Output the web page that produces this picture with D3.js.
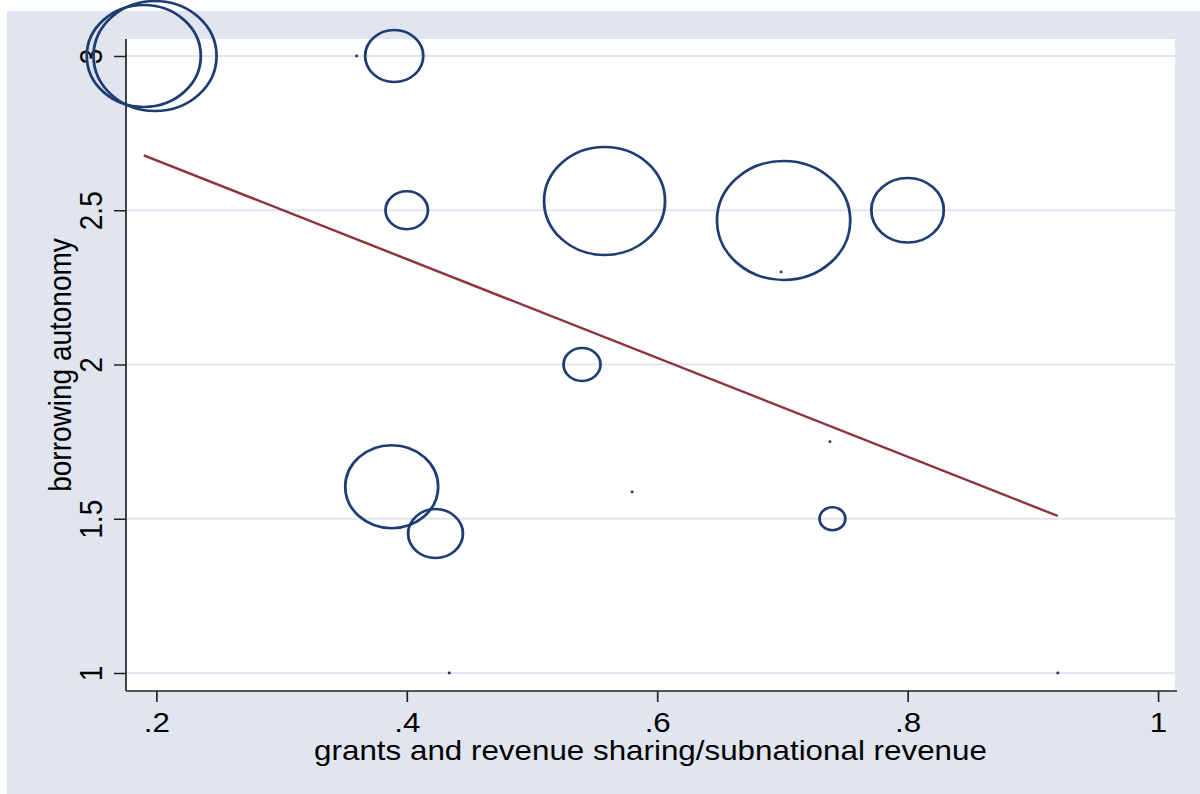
<!DOCTYPE html>
<html>
<head>
<meta charset="utf-8">
<script src="https://cdn.jsdelivr.net/npm/d3@7"></script>
<style>
  html, body { margin: 0; padding: 0; background: #ffffff; }
  svg { display: block; }
  text { font-family: "Liberation Sans", Arial, sans-serif; fill: #000; }
</style>
</head>
<body>
<svg id="chart"></svg>
<script>
// Share of grants and revenue sharing in subnational revenue (x),
// borrowing autonomy index (y), marker area proportional to weight.
const shareGrants = [0.190, 0.199, 0.360, 0.390, 0.400, 0.558, 0.701, 0.699, 0.800, 0.540, 0.738, 0.388, 0.423, 0.580, 0.740, 0.434, 0.920];
const borrowing   = [3.000, 3.000, 3.000, 3.000, 2.500, 2.530, 2.467, 2.300, 2.500, 2.000, 1.750, 1.604, 1.452, 1.587, 1.500, 1.000, 1.000];
const weights     = [104,   121,   0,     27,    14.4,  117,   142,   0,     42,    10.9,  0,     69,    24,    0,     5.3,   0,     0];

const xTicks = [0.2, 0.4, 0.6, 0.8, 1];
const xTickLabels = [".2", ".4", ".6", ".8", "1"];
const yTicks = [1, 1.5, 2, 2.5, 3];
const yTickLabels = ["1", "1.5", "2", "2.5", "3"];

const xTitle = "grants and revenue sharing/subnational revenue";
const yTitle = "borrowing autonomy";

// The graph is laid out in a narrower user space and stretched to the window width.
const STRETCH = 1.12;
const W = 1200 / STRETCH, H = 794;

const svg = d3.select("#chart")
  .attr("width", 1200).attr("height", H)
  .attr("viewBox", `0 0 ${W} ${H}`)
  .attr("preserveAspectRatio", "none");

const bg = "#e0e5ef";
const plot = { left: 126 / STRETCH, right: 1175 / STRETCH, top: 39, bottom: 691 };

// outer graph region
svg.append("rect")
  .attr("x", 7 / STRETCH).attr("y", 11)
  .attr("width", W).attr("height", H)
  .attr("fill", bg);

// plot region
svg.append("rect")
  .attr("x", plot.left).attr("y", plot.top)
  .attr("width", plot.right - plot.left).attr("height", plot.bottom - plot.top)
  .attr("fill", "#ffffff");

const x = d3.scaleLinear().domain([0.2, 1]).range([156.3 / STRETCH, 1158 / STRETCH]);
const y = d3.scaleLinear().domain([1, 3]).range([673, 56]);
const r = d3.scaleSqrt().domain([0, 142]).range([0, 59.5]);

// horizontal grid lines
svg.append("g").selectAll("line").data(yTicks).join("line")
  .attr("x1", plot.left).attr("x2", plot.right)
  .attr("y1", d => y(d)).attr("y2", d => y(d))
  .attr("stroke", bg).attr("stroke-width", 2.2);

// y axis
const yAxis = d3.axisLeft(y).tickValues(yTicks).tickSize(12 / STRETCH).tickFormat("");
const gy = svg.append("g").attr("transform", `translate(${plot.left},0)`).call(yAxis);
gy.select(".domain").attr("d", `M0,${plot.top}V${plot.bottom}`);
gy.selectAll("path, line").attr("stroke", "#222").attr("stroke-width", 1.5);

gy.selectAll(".tick").append("text")
  .attr("transform", `translate(${-(126 - 101.7) / STRETCH},0) rotate(-90)`)
  .attr("text-anchor", "middle")
  .attr("font-size", 28)
  .text((d, i) => yTickLabels[i]);

// x axis
const xAxis = d3.axisBottom(x).tickValues(xTicks).tickSize(11).tickFormat("");
const gx = svg.append("g").attr("transform", `translate(0,${plot.bottom})`).call(xAxis);
gx.select(".domain").attr("d", `M${plot.left},0H${1177 / STRETCH}`);
gx.selectAll("path, line").attr("stroke", "#222").attr("stroke-width", 1.5);

gx.selectAll(".tick").append("text")
  .attr("transform", `translate(0,${732 - plot.bottom})`)
  .attr("text-anchor", "middle")
  .attr("font-size", 28)
  .text((d, i) => xTickLabels[i]);

// axis titles
svg.append("text")
  .attr("transform", `translate(${(plot.left + plot.right) / 2},760)`)
  .attr("text-anchor", "middle")
  .attr("font-size", 28)
  .text(xTitle);

svg.append("text")
  .attr("transform", `translate(${70.7 / STRETCH},${(plot.top + plot.bottom) / 2}) rotate(-90)`)
  .attr("text-anchor", "middle")
  .attr("font-size", 28)
  .text(yTitle);

// weighted markers
const pts = shareGrants.map((v, i) => ({ x: v, y: borrowing[i], w: weights[i] }));
const marker = "#1f3d73";

svg.append("g").selectAll("circle.w").data(pts.filter(d => d.w > 0)).join("circle")
  .attr("class", "w")
  .attr("cx", d => x(d.x)).attr("cy", d => y(d.y))
  .attr("r", d => r(d.w))
  .attr("fill", "none").attr("stroke", marker).attr("stroke-width", 2.5);

svg.append("g").selectAll("circle.p").data(pts.filter(d => d.w === 0)).join("circle")
  .attr("class", "p")
  .attr("cx", d => x(d.x)).attr("cy", d => y(d.y))
  .attr("r", 1.4)
  .attr("fill", marker);

// least-squares fit across the observed range
const mx = d3.mean(shareGrants), my = d3.mean(borrowing);
const sxy = d3.sum(shareGrants, (v, i) => (v - mx) * (borrowing[i] - my));
const sxx = d3.sum(shareGrants, v => (v - mx) ** 2);
const slope = sxy / sxx, intercept = my - slope * mx;
const [x0, x1] = d3.extent(shareGrants);

svg.append("path")
  .datum([x0, x1])
  .attr("d", d3.line().x(d => x(d)).y(d => y(intercept + slope * d)))
  .attr("fill", "none").attr("stroke", "#8f3239").attr("stroke-width", 2.4);
</script>
</body>
</html>
